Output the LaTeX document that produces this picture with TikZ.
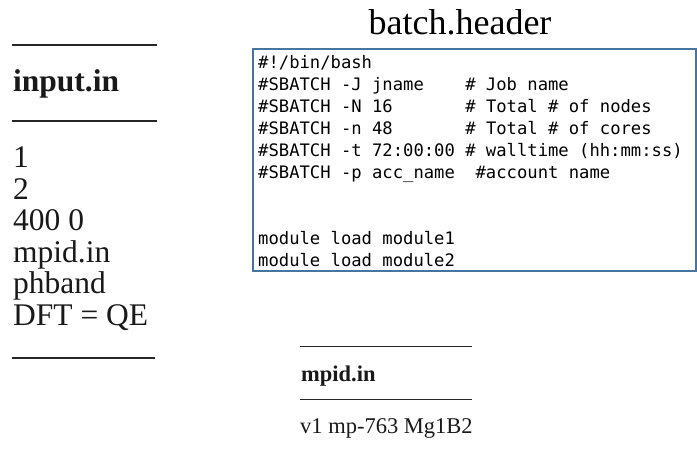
\documentclass[tikz,border=0pt]{standalone}
\usepackage{fontspec}
\setmainfont{Liberation Serif}
\setmonofont{DejaVu Sans Mono}
\usetikzlibrary{calc}
\definecolor{boxblue}{RGB}{69,117,160}
\newcommand*{\bigsz }{\fontsize{31.5}{37}\selectfont}
\newcommand*{\medsz }{\fontsize{22.5}{27}\selectfont}
\newcommand*{\ttlsz }{\fontsize{36}{42}\selectfont}
\newcommand*{\codesz}{\fontsize{17.2}{20}\selectfont\ttfamily}
\newcommand*{\lskip }{31.5}
\newcommand*{\cskip }{22}

\begin{document}
\begin{tikzpicture}[x=1pt, y=-1pt,
    rule/.style  = {line width=1.4pt, black!85},
    plain/.style = {anchor=base west, inner sep=0pt, text=black!90, font=\bigsz},
    code/.style  = {anchor=base west, inner sep=0pt, font=\codesz}]
    \useasboundingbox (0,0) rectangle (697,457);
    % input.in
    \draw [rule] (12,45) -- (157,45);
    \node [plain, font=\bigsz\bfseries] (inhead) at (13,92) {input.in};
    \draw [rule] (12,121) -- (157,121);
    \foreach \txt [count=\i from 0] in {1, 2, 400 0, mpid.in, phband, DFT = QE}
        \node [plain] (in\i) at (13,168+\i*\lskip) {\txt};
    \draw [rule] (12,358) -- (155,358);
    % batch.header
    \node [inner sep=0pt, font=\ttlsz] (bhead) at (460,22) {batch.header};
    \draw [boxblue, line width=1.5pt] (253,49) rectangle (696,271);
    \node [code] (c0) at (258,68.5)            {\#!/bin/bash};
    \node [code] (c1) at (258,68.5+1*\cskip)   {\#SBATCH -J jname~~~~\# Job name};
    \node [code] (c2) at (258,68.5+2*\cskip)   {\#SBATCH -N 16~~~~~~~\# Total \# of nodes};
    \node [code] (c3) at (258,68.5+3*\cskip)   {\#SBATCH -n 48~~~~~~~\# Total \# of cores};
    \node [code] (c4) at (258,68.5+4*\cskip)   {\#SBATCH -t 72:00:00 \# walltime (hh:mm:ss)};
    \node [code] (c5) at (258,68.5+5*\cskip)   {\#SBATCH -p acc\_name~~\#account name};
    \node [code] (c6) at (258,68.5+8*\cskip)   {module load module1};
    \node [code] (c7) at (258,68.5+9*\cskip)   {module load module2};
    % mpid.in
    \draw [rule, line width=1pt] (300,347) -- (472,347);
    \node [plain, font=\medsz\bfseries] (mphead) at (301,382) {mpid.in};
    \draw [rule, line width=1pt] (300,400) -- (472,400);
    \node [plain, font=\medsz] (mpline) at (300,434) {v1 mp-763 Mg1B2};
\end{tikzpicture}
\end{document}
